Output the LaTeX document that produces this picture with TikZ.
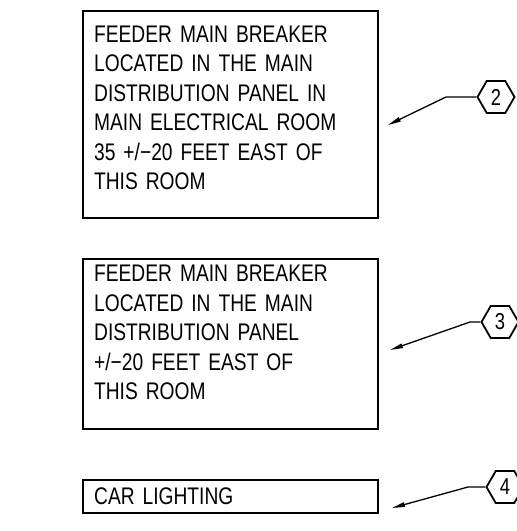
\documentclass[tikz,border=0pt]{standalone}
\usepackage{fontspec}
\setmainfont{Liberation Sans}[FakeStretch=0.8,WordSpace=1.9]
\usetikzlibrary{arrows.meta,positioning,shapes.geometric}
\tikzset{
  note/.style={draw,line width=2.3pt,anchor=north west,inner xsep=11pt,inner ysep=0pt,
              minimum width=295pt,text width=273pt,align=left,
              font=\fontsize{24}{29.5}\selectfont},
  tag/.style={regular polygon,regular polygon sides=6,draw,line width=1.8pt,
              minimum size=37pt,inner sep=0pt,font=\fontsize{23}{23}\selectfont},
  leader/.style={line width=1.3pt},
  pointer/.style={leader,-{Triangle[length=13pt,width=4.5pt]}},
}
\newcommand{\lowpad}[1]{\rule[-#1]{0pt}{#1}}
\begin{document}
\begin{tikzpicture}[x=1pt,y=-1pt]
  \useasboundingbox (0,0) rectangle (517,531);
  % notes
  \node[note,minimum height=207pt] (n2) at (82,10)
    {FEEDER MAIN BREAKER\\LOCATED IN THE MAIN\\DISTRIBUTION PANEL IN\\
     MAIN ELECTRICAL ROOM\\35 +/−20 FEET EAST OF\\THIS ROOM\lowpad{14pt}};
  \node[note,minimum height=170pt] (n3) at (82,258)
    {FEEDER MAIN BREAKER\\LOCATED IN THE MAIN\\DISTRIBUTION PANEL\\
     +/−20 FEET EAST OF\\THIS ROOM\lowpad{23pt}};
  \node[note,minimum height=33pt] (n4) at (82,479) {CAR LIGHTING};
  % tags and leaders
  \foreach \k/\tx/\ty/\kx/\px/\py in {2/496/97/446/388/125,
      3/500/322/470/390/350, 4/505/487/468/392/508}{
    \node[tag] (t\k) at (\tx,\ty) {\k};
    \coordinate (k\k) at (\kx,\ty);
    \coordinate (p\k) at (\px,\py);
    \draw[pointer] (t\k.west) -- (k\k) -- (p\k);
  }
\end{tikzpicture}
\end{document}
